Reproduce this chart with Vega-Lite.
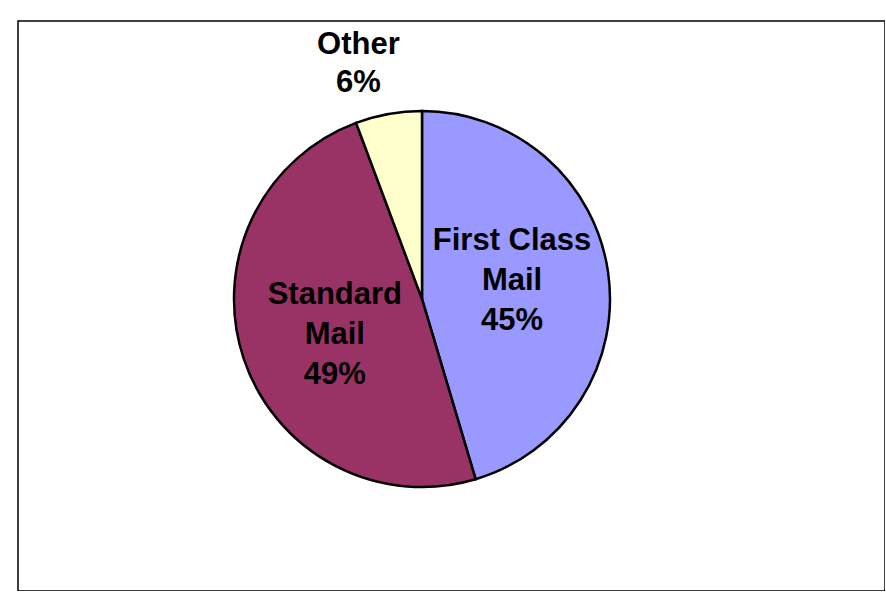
{
  "$schema": "https://vega.github.io/schema/vega-lite/v6.json",
  "width": 867,
  "height": 570,
  "autosize": {"type": "none"},
  "padding": {"left": 18, "top": 21, "right": 0, "bottom": 0},
  "background": "white",
  "view": {"stroke": "black", "strokeWidth": 1.5, "fill": "white"},
  "config": {"view": {"stroke": "black", "strokeWidth": 1.5}},
  "data": {
    "values": [
      {"category": "First Class Mail", "share": 45.4, "label": "First Class\nMail\n45%", "ord": 1},
      {"category": "Standard Mail", "share": 48.9, "label": "Standard\nMail\n49%", "ord": 2},
      {"category": "Other", "share": 5.7, "label": "Other\n6%", "ord": 3}
    ]
  },
  "encoding": {
    "theta": {"field": "share", "type": "quantitative", "stack": true},
    "order": {"field": "ord", "type": "ordinal"}
  },
  "layer": [
    {
      "mark": {"type": "arc", "outerRadius": 188, "stroke": "black", "strokeWidth": 2.5,
               "x": {"expr": "width/2-29.5"}, "y": {"expr": "height/2-7"}},
      "encoding": {
        "color": {"field": "category", "type": "nominal",
                  "scale": {"domain": ["First Class Mail", "Standard Mail", "Other"],
                            "range": ["#9999FF", "#993366", "#FFFFCC"]},
                  "legend": null}
      }
    },
    {
      "mark": {"type": "text", "radius": 93, "dx": -2, "dy": -45, "font": "Liberation Sans", "fontWeight": "bold",
               "fontSize": 31, "lineHeight": 40, "lineBreak": "\n", "align": "center", "baseline": "middle",
               "color": "black",
               "x": {"expr": "width/2-29.5"}, "y": {"expr": "height/2-7"}},
      "encoding": {
        "text": {"condition": {"test": "datum.category != 'First Class Mail'", "value": ""}, "field": "label", "type": "nominal"}
      }
    },
    {
      "mark": {"type": "text", "radius": 93, "dx": 1, "dy": -34, "font": "Liberation Sans", "fontWeight": "bold",
               "fontSize": 31, "lineHeight": 40, "lineBreak": "\n", "align": "center", "baseline": "middle",
               "color": "black",
               "x": {"expr": "width/2-29.5"}, "y": {"expr": "height/2-7"}},
      "encoding": {
        "text": {"condition": {"test": "datum.category != 'Standard Mail'", "value": ""}, "field": "label", "type": "nominal"}
      }
    },
    {
      "mark": {"type": "text", "radius": 245, "dx": -20, "dy": -13, "font": "Liberation Sans", "fontWeight": "bold",
               "fontSize": 31, "lineHeight": 38, "lineBreak": "\n", "align": "center", "baseline": "middle",
               "color": "black",
               "x": {"expr": "width/2-29.5"}, "y": {"expr": "height/2-7"}},
      "encoding": {
        "text": {"condition": {"test": "datum.category != 'Other'", "value": ""}, "field": "label", "type": "nominal"}
      }
    }
  ]
}
